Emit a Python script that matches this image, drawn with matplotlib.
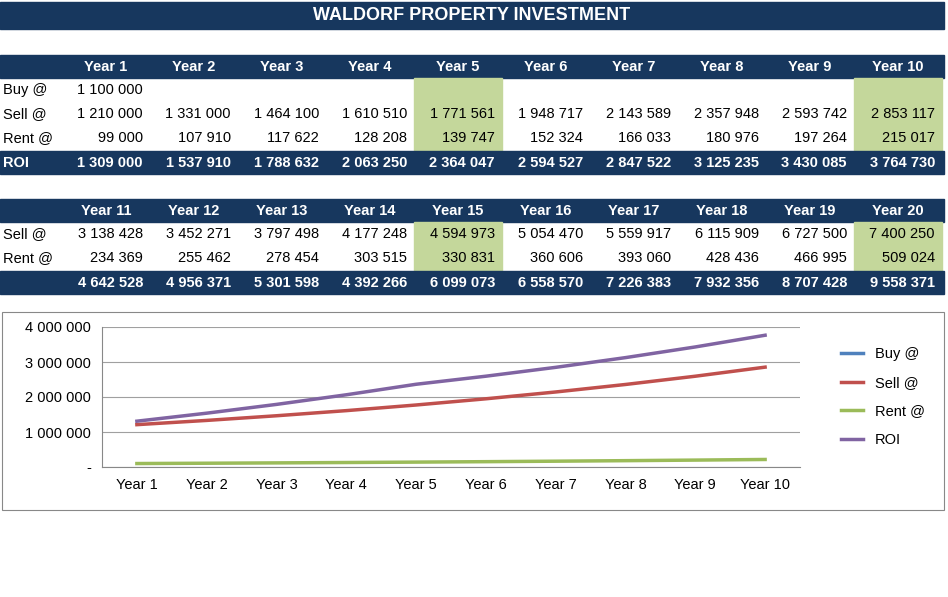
import numpy as np
import matplotlib.pyplot as plt

years1 = ["Year %d" % i for i in range(1, 11)]
years2 = ["Year %d" % i for i in range(11, 21)]
buy = [1100000] + [None] * 9
sell1 = [1210000, 1331000, 1464100, 1610510, 1771561, 1948717, 2143589, 2357948, 2593742, 2853117]
rent1 = [99000, 107910, 117622, 128208, 139747, 152324, 166033, 180976, 197264, 215017]
roi1 = [1309000, 1537910, 1788632, 2063250, 2364047, 2594527, 2847522, 3125235, 3430085, 3764730]
sell2 = [3138428, 3452271, 3797498, 4177248, 4594973, 5054470, 5559917, 6115909, 6727500, 7400250]
rent2 = [234369, 255462, 278454, 303515, 330831, 360606, 393060, 428436, 466995, 509024]
roi2 = [4642528, 4956371, 5301598, 4392266, 6099073, 6558570, 7226383, 7932356, 8707428, 9558371]

NAVY = "#17375E"
GREEN = "#C4D79B"
plt.rcParams['font.family'] = ['Liberation Sans', 'DejaVu Sans']
FS = 10.5


def fmt(v):
    return "{:,}".format(v).replace(",", " ")


fig = plt.figure(figsize=(9.48, 5.97), dpi=100)
bg = fig.add_axes([0, 0, 1, 1])
bg.set_xlim(0, 948)
bg.set_ylim(597, 0)
bg.axis("off")

# title bar
bg.add_patch(plt.Rectangle((0, 2), 944, 27, color=NAVY))
bg.text(472, 16, "WALDORF PROPERTY INVESTMENT", color="white", fontsize=13,
        fontweight="bold", ha="center", va="center")

x0, cw = 62, 88


def draw_table(top, years, rows, roi, roi_label):
    rh = 24
    bg.add_patch(plt.Rectangle((0, top), 944, 23, color=NAVY))
    nrows = len(rows)
    for c in (4, 9):
        bg.add_patch(plt.Rectangle((x0 + c * cw, top + 23), cw, nrows * rh + 1, color=GREEN))
    for i, y in enumerate(years):
        bg.text(x0 + i * cw + cw / 2, top + 12, y, color="white", fontsize=FS,
                fontweight="bold", ha="center", va="center")
    for r, (label, vals) in enumerate(rows):
        yy = top + 23 + rh * r + rh / 2
        bg.text(3, yy, label, fontsize=FS, ha="left", va="center")
        for i, v in enumerate(vals):
            if v is not None:
                bg.text(x0 + (i + 1) * cw - 7, yy, fmt(v), fontsize=FS, ha="right", va="center")
    ry = top + 23 + nrows * rh + 1
    bg.add_patch(plt.Rectangle((0, ry), 944, 23, color=NAVY))
    bg.text(3, ry + 12, roi_label, color="white", fontsize=FS, fontweight="bold", va="center")
    for i, v in enumerate(roi):
        bg.text(x0 + (i + 1) * cw - 7, ry + 12, fmt(v), color="white", fontsize=FS,
                fontweight="bold", ha="right", va="center")


draw_table(55, years1, [("Buy @", buy), ("Sell @", sell1), ("Rent @", rent1)], roi1, "ROI")
draw_table(199, years2, [("Sell @", sell2), ("Rent @", rent2)], roi2, "")

# chart frame
bg.add_patch(plt.Rectangle((2, 312), 942, 198, fill=False, ec="#888888", lw=0.8))

ax = fig.add_axes([102 / 948, 1 - 467 / 597, 698 / 948, 140 / 597])
x = np.arange(10)
buy_arr = np.array([np.nan if v is None else v for v in buy], dtype=float)
ax.plot(x, buy_arr, color="#4F81BD", lw=2.5, label="Buy @")
ax.plot(x, sell1, color="#C0504D", lw=2.5, label="Sell @")
ax.plot(x, rent1, color="#9BBB59", lw=2.5, label="Rent @")
ax.plot(x, roi1, color="#8064A2", lw=2.5, label="ROI")
ax.set_xlim(-0.5, 9.5)
ax.set_ylim(0, 4000000)
ax.set_yticks([0, 1000000, 2000000, 3000000, 4000000])
ax.set_yticklabels(["-", "1 000 000", "2 000 000", "3 000 000", "4 000 000"])
ax.set_xticks(x)
ax.set_xticklabels(years1)
ax.grid(axis="y", color="#A0A0A0", lw=0.8)
ax.set_axisbelow(True)
for s in ("top", "right"):
    ax.spines[s].set_visible(False)
ax.spines["left"].set_color("#888888")
ax.spines["bottom"].set_color("#888888")
ax.tick_params(labelsize=FS, length=0, pad=8)
ax.legend(loc="center left", bbox_to_anchor=(1.04, 0.5), frameon=False, fontsize=FS,
          handlelength=1.5, labelspacing=1.0)

fig.savefig("out.png", dpi=100)
